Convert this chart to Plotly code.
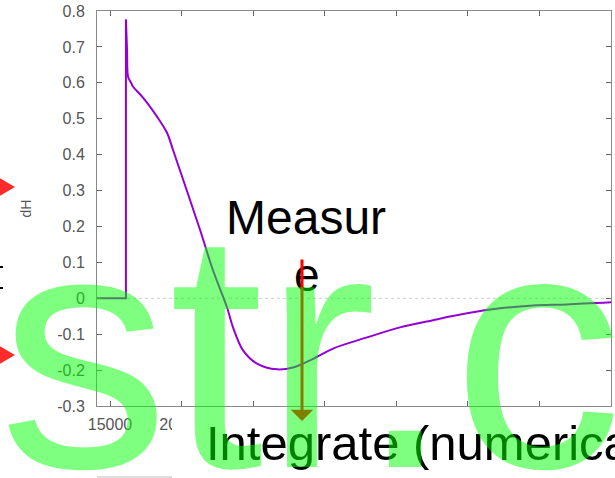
import plotly.graph_objects as go

# Heat-flow trace (dH) against time
time_s = [14090, 16110, 16110, 16190, 16260, 16470, 16610, 17300, 18280, 18980,
          19400, 21290, 22190, 23170, 23590, 24290, 25270, 26660, 27780,
          28970, 30570, 32950, 35250, 37560, 39930, 42230, 44540, 46910, 49990]
dh = [0, 0, 0.776, 0.69, 0.617, 0.60, 0.589, 0.559, 0.506, 0.461,
      0.413, 0.19, 0.078, -0.025, -0.081, -0.145, -0.182, -0.198, -0.193,
      -0.173, -0.14, -0.109, -0.081, -0.061, -0.042, -0.028, -0.02, -0.017, -0.011]
PEAK = 2  # index of the peak right after the step

x_ticks = [15000, 20000, 25000, 30000, 35000, 40000, 45000, 50000]
x_tick_text = ["15000", "20000", "25000", "30000", "35000", "40000", "45000", "50000"]
y_ticks = [-0.3, -0.2, -0.1, 0, 0.1, 0.2, 0.3, 0.4, 0.5, 0.6, 0.7, 0.8]
y_tick_text = ["-0.3", "-0.2", "-0.1", "0", "0.1", "0.2", "0.3", "0.4", "0.5", "0.6", "0.7", "0.8"]

W, H = 615, 478
L, R, T, B = 97, 611, 11, 406


def px(x):
    return (x - L) / (R - L)


def py(y):
    return (B - y) / (B - T)


fig = go.Figure()
# baseline and the step, drawn straight
fig.add_trace(go.Scatter(x=time_s[:PEAK + 1], y=dh[:PEAK + 1], mode="lines",
                         line=dict(color="#9400d3", width=2), hoverinfo="skip"))
# decay after the peak, smoothed
fig.add_trace(go.Scatter(x=time_s[PEAK:], y=dh[PEAK:], mode="lines",
                         line=dict(color="#9400d3", width=2, shape="spline", smoothing=0.9),
                         hoverinfo="skip"))

axis_common = dict(showline=True, linecolor="#8a8a8a", linewidth=1, mirror="ticks",
                   ticks="inside", ticklen=5, tickcolor="#666", tickwidth=1,
                   showgrid=False, zeroline=False,
                   tickfont=dict(family="Liberation Sans", size=16, color="#555"))

fig.update_layout(
    width=W, height=H,
    margin=dict(l=L, r=W - R, t=T, b=H - B),
    paper_bgcolor="white", plot_bgcolor="white",
    showlegend=False,
    xaxis=dict(range=[14090, 49990], tickvals=x_ticks, ticktext=x_tick_text,
               ticklabelstandoff=4, **axis_common),
    yaxis=dict(range=[-0.3, 0.8], tickvals=y_ticks, ticktext=y_tick_text,
               ticklabelstandoff=8,
               title=dict(text="dH", standoff=22,
                          font=dict(family="Liberation Sans", size=14, color="#555")),
               **axis_common),
)

shapes = []
# dotted zero line
shapes.append(dict(type="line", xref="x", yref="y", x0=14090, x1=49990, y0=0, y1=0,
                   line=dict(color="#cccccc", width=1, dash="dot"), layer="below"))
# red arrowheads entering from the left edge
for yc in (187, 355):
    shapes.append(dict(type="path", xref="paper", yref="paper",
                       path=f"M {px(-4)},{py(yc - 11)} L {px(15)},{py(yc)} L {px(-4)},{py(yc + 11)} Z",
                       fillcolor="#ff2a2a", line=dict(width=0), layer="above"))
# fragments of clipped text at the left edge
for yc in (267, 288):
    shapes.append(dict(type="line", xref="paper", yref="paper",
                       x0=px(-2), x1=px(3), y0=py(yc), y1=py(yc),
                       line=dict(color="black", width=2), layer="above"))
# text box panel below the axis
shapes.append(dict(type="rect", xref="paper", yref="paper",
                   x0=px(172), x1=px(640), y0=py(411), y1=py(490),
                   fillcolor="white", line=dict(width=0), layer="above"))
shapes.append(dict(type="line", xref="paper", yref="paper",
                   x0=px(97), x1=px(172), y0=py(477), y1=py(477),
                   line=dict(color="#bbbbbb", width=1), layer="above"))
fig.update_layout(shapes=shapes)

big = "Liberation Sans"
ann = []
ann.append(dict(text="Measur", xref="paper", yref="paper", x=px(306), y=py(189),
                xanchor="center", yanchor="top", showarrow=False,
                font=dict(family=big, size=48, color="black")))
ann.append(dict(text="e", xref="paper", yref="paper", x=px(307), y=py(247),
                xanchor="center", yanchor="top", showarrow=False,
                font=dict(family=big, size=46, color="black")))
ann.append(dict(text="Integrate (numerically)", xref="paper", yref="paper",
                x=px(204), y=py(414), xanchor="left", yanchor="top", showarrow=False,
                font=dict(family=big, size=49, color="black")))
# red arrow pointing down
ann.append(dict(text="", xref="paper", yref="paper", x=px(302), y=py(421),
                ax=0, ay=-163, axref="pixel", ayref="pixel", showarrow=True,
                arrowhead=1, arrowsize=1.25, arrowwidth=3, arrowcolor="#ff0000"))
# large translucent overlay text
ann.append(dict(text="str.c", xref="paper", yref="paper", x=px(-3), y=py(157),
                xanchor="left", yanchor="top", showarrow=False,
                font=dict(family=big, size=340, color="rgba(0,255,0,0.5)")))
fig.update_layout(annotations=ann)

fig.write_html("out.html")
